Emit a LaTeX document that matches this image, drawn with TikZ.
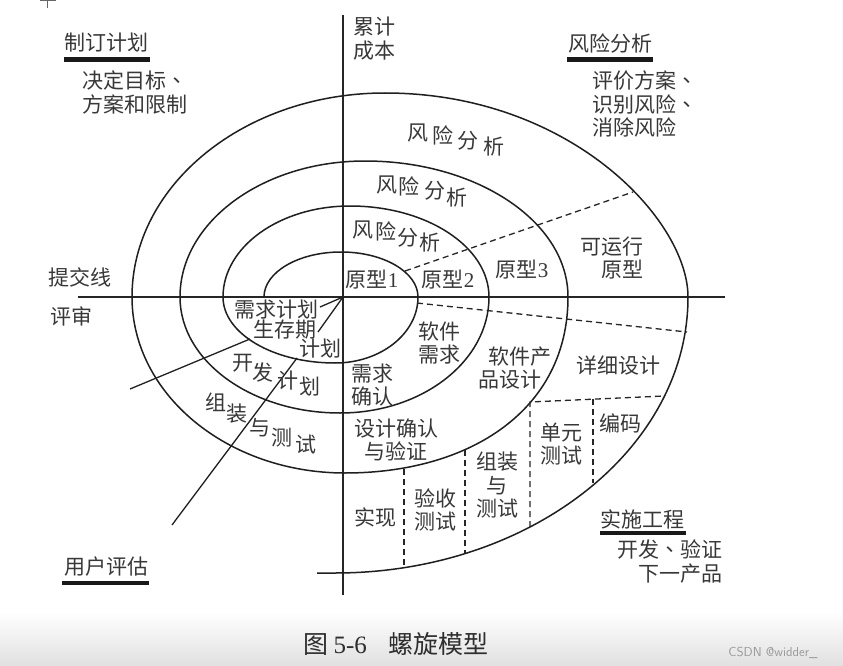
\documentclass[tikz,border=0pt]{standalone}
\usepackage{fontspec}
\setmainfont{Liberation Serif}
\newfontfamily\cjk{Noto Sans CJK SC}
\newfontfamily\cjktc{Noto Sans CJK TC}
\newcommand\dun{{\cjktc 、}}
\newcommand\lbfont{\fontsize{21}{23.5}\selectfont\cjk}
\newcommand\capfont{\fontsize{25}{28}\selectfont\cjk}
\begin{document}
\begin{tikzpicture}[x=1pt,y=-1pt,
  curve/.style={line width=1.5pt, draw=black!88},
  axisline/.style={line width=1.4pt, draw=black!85},
  dline/.style={line width=1.3pt, draw=black!85, dash pattern=on 6pt off 4pt},
  lbl/.style={font=\lbfont, text=black!78, inner sep=0pt},
  bar/.style={line width=4.5pt, draw=black!90},
  capl/.style={font=\capfont, text=black!82, inner sep=0pt}]
\useasboundingbox (0,0) rectangle (843,666);
\fill[white] (0,0) rectangle (843,666);
\shade[top color=white, bottom color=black!12] (0,612) rectangle (843,666);
% fragment at top left
\draw[black!60, line width=1pt] (47,0) -- (47,8) (40,1) -- (56,1);
% axes
\coordinate (O) at (343,297);
\coordinate (vtop) at (343,15);
\coordinate (vbot) at (343,595);
\coordinate (hl) at (78,297);
\coordinate (hr) at (725,297);
\draw[axisline] (vtop) -- (vbot);
\draw[axisline] (hl) -- (hr);
% spiral
\draw[curve] (264,297)
  .. controls (264,272.15) and (298.5,252) .. (341,252)
  .. controls (383.5,252) and (418,272.15) .. (418,297)
  .. controls (418,333.45) and (380.84,363) .. (335,363)
  .. controls (273.14,363) and (223,333.45) .. (223,297)
  .. controls (223,246.74) and (279.86,206) .. (350,206)
  .. controls (426.77,206) and (489,246.74) .. (489,297)
  .. controls (489,361.07) and (422.29,413) .. (340,413)
  .. controls (251.63,413) and (180,361.07) .. (180,297)
  .. controls (180,221.89) and (262.82,161) .. (365,161)
  .. controls (477.12,161) and (568,221.89) .. (568,297)
  .. controls (568,410) and (470,473) .. (345,473)
  .. controls (227.36,473) and (132,394.2) .. (132,297)
  .. controls (132,184.33) and (245.27,93) .. (385,93)
  .. controls (570,93) and (688,220) .. (688,297)
  .. controls (688,449.43) and (529.41,573) .. (335,573)
  -- (317,573);
% solid connector lines
\coordinate (a1) at (320,307);
\coordinate (a2) at (318,332);
\coordinate (c1) at (250,339);
\coordinate (c2) at (130,389);
\coordinate (d1) at (297,358);
\coordinate (d2) at (172,525);
\draw[curve, line width=1.3pt] (O) -- (a1);
\draw[curve, line width=1.3pt] (O) -- (a2);
\draw[curve, line width=1.3pt] (c1) -- (c2);
\draw[curve, line width=1.3pt] (d1) -- (d2);
% dashed lines
\coordinate (e1) at (405,271);
\coordinate (e2) at (633,192);
\coordinate (f1) at (417,303);
\coordinate (f2) at (687,332);
\draw[dline] (e1) -- (e2);
\draw[dline] (f1) -- (f2);
\coordinate (g1) at (530,402);
\coordinate (g2) at (664,396);
\draw[dline] (530,527) -- (g1) -- (g2);
\draw[dline] (593,399) -- (593,483);
\draw[dline] (465,450) -- (465,553);
\draw[dline] (404,469) -- (404,567);
% corner labels
\node[lbl] (t1) at (106.5,43) {制订计划};
\draw[bar] (64,59.5) -- (150,59.5);
\node[lbl, align=left, anchor=north west] (t1b) at (82,71) {决定目标\dun\\方案和限制};
\node[lbl, align=left, anchor=north west] (t2) at (353,17) {累计\\成本};
\node[lbl] (t3) at (610,43) {风险分析};
\draw[bar] (567,59.5) -- (653,59.5);
\node[lbl, align=left, anchor=north west] (t3b) at (592,71) {评价方案\dun\\识别风险\dun\\消除风险};
\node[lbl] (t4) at (80,277) {提交线};
\node[lbl] (t5) at (71.5,316) {评审};
\node[lbl] (t6) at (106,567) {用户评估};
\draw[bar] (62,583) -- (149,583);
\node[lbl] (t7) at (642,519) {实施工程};
\draw[bar] (600,533) -- (686,533);
\node[lbl, align=right, anchor=north east] (t7b) at (723,540) {开发\dun 验证\\下一产品};
% risk analysis labels along arcs
\node[lbl] at (418,133) {风};
\node[lbl] at (443,135) {险};
\node[lbl] at (468,141) {分};
\node[lbl] at (494,147) {析};
\node[lbl] at (387,185) {风};
\node[lbl] at (409,186) {险};
\node[lbl] at (435,191) {分};
\node[lbl] at (457,198) {析};
\node[lbl] at (363,230) {风};
\node[lbl] at (386,231) {险};
\node[lbl] at (408,238) {分};
\node[lbl] at (430,243) {析};
% prototypes
\node[lbl] (p1) at (372,280) {原型{\rmfamily 1}};
\node[lbl] (p2) at (448,280) {原型{\rmfamily 2}};
\node[lbl] (p3) at (522,270) {原型{\rmfamily 3}};
\node[lbl, align=right] (p4) at (612,258) {可运行\\原型};
% planning labels
\node[lbl] (q1) at (276,310) {需求计划};
\node[lbl] (q2) at (285,330) {生存期};
\node[lbl] (q3) at (320,349) {计划};
\node[lbl] at (243,363) {开};
\node[lbl] at (263,373) {发};
\node[lbl] at (288,381) {计};
\node[lbl] at (310,387) {划};
\node[lbl] at (216,402) {组};
\node[lbl] at (237,414) {装};
\node[lbl] at (260,428) {与};
\node[lbl] at (282,438) {测};
\node[lbl] at (306,445) {试};
% development labels
\node[lbl, align=left] (r1) at (372,385) {需求\\确认};
\node[lbl, align=left] (r2) at (439,343) {软件\\需求};
\node[lbl, align=center] (r3) at (510,368) {\hspace*{19pt}软件产\\品设计};
\node[lbl] (r4) at (618,366) {详细设计};
\node[lbl, align=center] (r5) at (396,440) {设计确认\\与验证};
\node[lbl, align=center] (r6) at (561,444) {单元\\测试};
\node[lbl] (r7) at (620,423) {编码};
\node[lbl, align=center] (r8) at (497,485) {组装\\与\\测试};
\node[lbl, align=center] (r9) at (435,510) {验收\\测试};
\node[lbl] (r10) at (375,517) {实现};
% caption
\node[capl] (cap) at (396,644) {图 {\rmfamily 5-6}\hspace{22pt}螺旋模型};
\node[font=\fontsize{13}{15}\selectfont\sffamily, text=black!40, inner sep=0pt] (wm) at (773,653) {CSDN @widder\_};
\end{tikzpicture}
\end{document}
